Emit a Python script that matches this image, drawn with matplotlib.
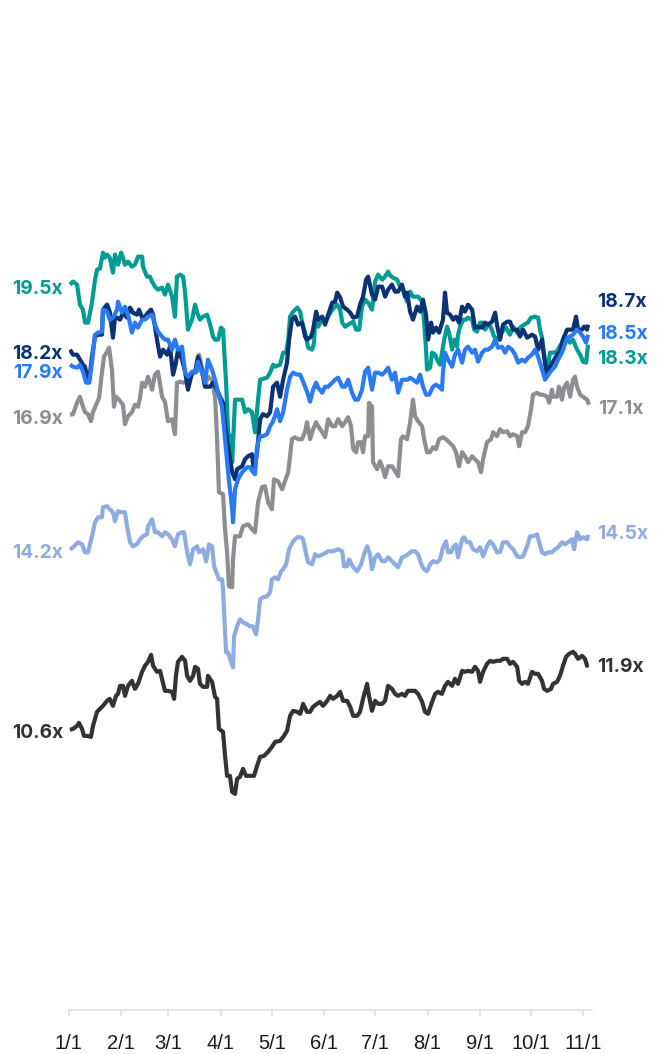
import matplotlib
matplotlib.use("Agg")
import matplotlib.pyplot as plt

# Forward P/E multiples, 2025 year to date (x = days since 1 Jan)
month_days = [0, 31, 59, 90, 120, 151, 181, 212, 243, 273, 304]
month_labels = ["1/1", "2/1", "3/1", "4/1", "5/1", "6/1", "7/1", "8/1", "9/1", "10/1", "11/1"]

teal_pts = [
    (0.8, 19.50), (2.6, 19.56), (5.0, 19.50), (6.7, 19.10), (8.5, 19.00), (9.7, 18.74), (11.5, 18.74),
    (13.8, 19.14), (15.6, 19.60), (16.8, 19.80), (18.5, 19.82), (20.3, 20.14), (21.5, 20.04), (22.7, 20.10),
    (24.3, 20.04), (26.2, 19.74), (27.4, 20.10), (29.2, 19.90), (31.0, 20.14), (32.1, 20.04), (33.3, 19.90),
    (35.1, 19.96), (37.4, 19.86), (39.2, 19.90), (41.0, 20.06), (43.4, 20.06), (43.9, 19.86), (46.3, 19.66),
    (48.0, 19.66), (49.3, 19.56), (51.0, 19.46), (52.8, 19.40), (55.2, 19.44), (56.9, 19.30), (58.7, 19.50),
    (61.1, 19.26), (62.8, 18.86), (64.0, 19.66), (65.8, 19.70), (67.6, 19.66), (68.8, 19.34), (70.5, 18.60),
    (72.9, 18.80), (74.7, 19.10), (75.9, 18.94), (77.6, 18.80), (79.4, 18.86), (81.8, 18.90), (83.6, 18.70),
    (85.3, 18.46), (86.5, 18.40), (88.3, 18.40), (90.0, 18.64), (91.2, 18.60), (93.0, 17.54), (94.2, 16.55),
    (96.0, 16.41), (96.6, 15.95), (98.3, 17.20), (102.5, 17.20), (104.2, 16.95), (106.0, 17.01), (108.3, 16.95),
    (110.1, 16.55), (111.9, 17.20), (113.1, 17.60), (117.2, 17.64), (119.0, 17.74), (120.8, 17.90), (122.0, 17.86),
    (124.9, 17.90), (126.7, 18.14), (128.5, 18.14), (129.7, 18.40), (130.8, 18.86), (132.6, 18.96), (135.0, 19.04),
    (136.8, 18.96), (137.9, 18.74), (139.7, 18.54), (141.5, 18.24), (143.8, 18.20), (145.0, 18.34), (145.6, 18.80),
    (147.4, 18.66), (149.8, 18.80), (151.5, 18.74), (153.3, 18.86), (155.7, 19.00), (157.4, 19.06), (158.6, 19.10),
    (160.4, 19.00), (161.6, 18.74), (163.3, 18.66), (165.1, 18.70), (168.1, 18.76), (169.8, 18.60), (171.6, 18.60),
    (173.3, 19.06), (175.1, 19.20), (176.9, 19.14), (179.2, 19.00), (181.0, 19.56), (182.8, 19.70), (185.2, 19.60),
    (186.9, 19.66), (188.7, 19.76), (189.9, 19.68), (191.6, 19.64), (194.0, 19.60), (195.8, 19.46), (197.5, 19.40),
    (199.9, 19.16), (201.7, 19.36), (203.4, 19.26), (206.4, 19.26), (208.8, 19.16), (210.0, 18.74), (211.1, 18.20),
    (211.7, 17.80), (213.5, 17.84), (214.7, 18.14), (216.5, 18.10), (217.6, 18.00), (219.4, 17.90), (221.8, 18.40),
    (223.5, 18.66), (224.7, 18.54), (226.5, 18.20), (227.7, 18.40), (229.4, 18.26), (230.0, 18.50), (231.2, 18.66),
    (233.0, 18.80), (234.7, 18.80), (235.9, 18.84), (238.3, 18.80), (239.5, 18.60), (241.2, 18.56), (243.0, 18.74),
    (244.8, 18.74), (246.0, 18.60), (247.7, 18.70), (249.5, 18.64), (251.3, 18.46), (253.6, 18.40), (256.0, 18.56),
    (258.4, 18.64), (260.7, 18.50), (262.5, 18.66), (264.9, 18.54), (266.6, 18.64), (269.0, 18.70), (271.3, 18.74),
    (273.1, 18.84), (275.5, 18.86), (277.3, 18.84), (278.4, 18.60), (279.6, 18.44), (280.2, 18.26), (282.0, 17.84),
    (283.2, 17.90), (284.3, 18.14), (286.1, 18.14), (288.5, 18.16), (289.6, 18.24), (291.4, 18.34), (292.6, 18.46),
    (294.4, 18.40), (296.2, 18.34), (297.9, 18.40), (300.3, 18.20), (302.1, 18.10), (303.8, 17.96), (305.6, 17.94),
    (306.8, 18.30),
]

navy_pts = [
    (0.8, 18.20), (2.6, 18.10), (5.0, 18.10), (6.7, 18.00), (8.5, 17.90), (9.7, 17.86), (10.9, 17.66), (12.2, 17.60),
    (13.8, 18.06), (15.6, 18.46), (17.4, 18.50), (19.7, 18.50), (20.3, 19.00), (22.7, 19.10), (24.3, 18.96),
    (26.2, 18.44), (27.4, 18.84), (28.6, 18.84), (30.4, 18.80), (32.1, 18.94), (34.5, 18.84), (36.3, 19.04),
    (38.0, 18.94), (40.4, 18.90), (41.6, 19.00), (43.4, 18.84), (45.1, 18.86), (46.9, 18.94), (48.7, 19.00),
    (49.9, 18.90), (52.2, 18.40), (54.0, 18.06), (55.8, 18.20), (58.1, 18.10), (59.9, 18.26), (61.7, 17.70),
    (63.4, 17.94), (64.6, 18.20), (67.0, 18.00), (68.8, 17.76), (70.5, 17.40), (72.9, 17.74), (74.7, 17.76),
    (76.4, 18.06), (78.8, 17.76), (80.6, 17.46), (83.6, 17.46), (85.3, 17.54), (87.7, 17.40), (89.4, 17.26),
    (91.2, 17.14), (92.4, 16.67), (94.2, 16.27), (96.6, 15.75), (98.3, 15.61), (99.5, 15.81), (102.5, 15.87),
    (104.2, 16.01), (106.0, 16.07), (108.3, 16.11), (109.5, 15.75), (111.3, 16.15), (113.1, 16.81), (114.8, 16.91),
    (117.2, 16.87), (119.0, 16.95), (120.8, 17.46), (123.1, 17.54), (124.9, 17.26), (126.7, 17.60), (129.0, 17.94),
    (130.2, 18.40), (131.9, 18.80), (133.7, 18.86), (135.5, 18.70), (137.9, 18.74), (139.7, 18.46), (140.8, 18.40),
    (143.2, 18.46), (144.4, 18.60), (146.2, 18.96), (147.4, 18.80), (149.8, 18.86), (151.5, 18.70), (153.3, 18.90),
    (155.7, 19.14), (157.4, 19.16), (158.6, 19.34), (160.4, 19.24), (162.1, 19.06), (164.5, 19.00), (166.3, 18.94),
    (168.1, 18.84), (170.4, 18.86), (172.1, 19.10), (173.9, 19.26), (175.7, 19.60), (176.9, 19.66), (179.2, 19.30),
    (181.0, 19.20), (182.8, 19.46), (185.2, 19.46), (186.9, 19.26), (188.7, 19.40), (191.0, 19.50), (192.8, 19.36),
    (194.6, 19.36), (196.9, 19.50), (198.7, 19.26), (199.9, 19.34), (201.7, 18.96), (203.4, 18.80), (205.8, 19.06),
    (207.6, 18.96), (209.3, 19.20), (211.1, 18.90), (212.3, 18.40), (214.1, 18.74), (215.2, 18.54), (217.0, 18.64),
    (218.8, 18.54), (221.1, 18.80), (222.3, 19.34), (223.5, 18.94), (225.3, 18.90), (227.1, 18.80), (228.8, 18.86),
    (230.6, 18.74), (232.4, 19.06), (234.1, 18.96), (235.9, 19.10), (238.3, 19.00), (240.0, 18.64), (241.8, 18.66),
    (244.2, 18.64), (246.0, 18.74), (247.7, 18.70), (250.1, 18.76), (251.9, 18.94), (253.0, 18.70), (254.8, 18.40),
    (256.6, 18.70), (259.0, 18.76), (260.7, 18.76), (262.5, 18.60), (264.9, 18.60), (266.6, 18.46), (268.4, 18.60),
    (270.8, 18.44), (273.7, 18.50), (275.5, 18.46), (277.3, 18.20), (279.6, 18.40), (280.8, 18.06), (282.6, 17.66),
    (284.3, 17.86), (286.1, 17.96), (288.5, 18.10), (290.2, 18.16), (292.0, 18.40), (294.4, 18.60), (296.2, 18.60),
    (297.9, 18.60), (299.7, 18.86), (300.9, 18.60), (303.2, 18.60), (304.4, 18.66), (306.2, 18.60), (306.8, 18.70),
]

blue_pts = [
    (0.8, 17.90), (2.6, 17.86), (5.0, 17.84), (6.7, 17.90), (8.5, 17.76), (10.3, 17.54), (12.2, 17.54), (13.8, 17.94),
    (15.6, 18.50), (17.4, 18.54), (19.7, 18.56), (20.3, 19.00), (22.7, 18.96), (24.3, 18.80), (26.2, 18.84),
    (28.6, 19.00), (29.2, 19.16), (31.5, 18.94), (33.3, 19.06), (35.1, 18.90), (37.4, 18.54), (39.2, 18.74),
    (41.0, 18.64), (43.4, 18.80), (45.1, 18.80), (46.9, 18.86), (49.3, 18.90), (51.0, 18.70), (52.8, 18.56),
    (55.2, 18.46), (56.9, 18.40), (58.7, 18.40), (61.1, 18.20), (62.8, 18.40), (64.6, 18.20), (67.0, 18.26),
    (68.8, 17.74), (70.5, 17.66), (72.9, 17.76), (74.7, 17.74), (76.4, 17.96), (78.8, 17.74), (80.6, 17.54),
    (82.3, 18.00), (84.7, 17.80), (86.5, 17.60), (88.3, 17.34), (90.6, 17.06), (92.4, 16.41), (94.2, 15.75),
    (96.6, 15.01), (97.1, 14.75), (98.3, 15.41), (100.1, 15.61), (102.5, 15.75), (105.4, 15.85), (107.1, 15.85),
    (108.9, 15.75), (110.1, 15.71), (111.3, 16.27), (113.1, 16.47), (114.8, 16.47), (117.2, 16.51), (119.0, 16.67),
    (120.8, 16.77), (123.1, 17.01), (124.9, 16.77), (126.7, 16.95), (129.0, 17.40), (130.8, 17.66), (132.6, 17.74),
    (135.0, 17.70), (136.8, 17.70), (138.5, 17.56), (140.8, 17.36), (142.6, 17.16), (144.4, 17.40), (146.2, 17.54),
    (147.4, 17.44), (149.8, 17.34), (151.5, 17.46), (153.3, 17.46), (155.7, 17.54), (157.4, 17.60), (159.2, 17.64),
    (161.6, 17.46), (163.3, 17.46), (165.1, 17.60), (167.4, 17.34), (169.2, 17.20), (171.0, 17.20), (173.3, 17.40),
    (175.1, 17.76), (176.9, 17.84), (179.2, 17.40), (181.0, 17.74), (182.8, 17.74), (185.2, 17.70), (186.9, 17.76),
    (188.7, 17.84), (191.0, 17.60), (192.8, 17.74), (194.6, 17.34), (196.9, 17.60), (198.7, 17.60), (200.4, 17.60),
    (201.7, 17.64), (203.4, 17.60), (205.8, 17.54), (207.6, 17.70), (209.3, 17.46), (211.1, 17.30), (212.9, 17.30),
    (215.2, 17.46), (217.0, 17.50), (218.8, 17.46), (220.5, 17.40), (221.1, 17.74), (222.3, 18.14), (224.1, 18.00),
    (226.5, 17.86), (228.2, 18.10), (230.0, 18.20), (232.4, 17.94), (234.1, 18.20), (235.9, 18.26), (238.3, 18.14),
    (240.0, 18.20), (241.8, 17.96), (244.2, 18.14), (246.0, 18.20), (247.7, 18.20), (250.1, 18.26), (251.9, 18.40),
    (253.6, 18.24), (256.0, 18.26), (257.8, 18.14), (259.6, 18.26), (261.9, 18.20), (263.7, 18.10), (265.5, 17.94),
    (267.8, 18.00), (269.6, 17.96), (271.3, 18.04), (273.7, 18.10), (275.5, 18.20), (277.3, 18.06), (279.6, 17.80),
    (281.4, 17.60), (283.2, 17.70), (285.5, 17.80), (287.3, 17.86), (289.1, 18.00), (291.4, 18.14), (292.6, 18.26),
    (294.4, 18.44), (296.2, 18.46), (297.9, 18.50), (300.3, 18.60), (302.1, 18.54), (303.8, 18.46), (305.6, 18.34),
    (306.8, 18.50),
]

gray_pts = [
    (0.8, 16.90), (2.6, 16.91), (5.0, 17.14), (6.7, 17.26), (8.5, 17.06), (9.7, 16.95), (11.5, 16.91), (13.2, 16.77),
    (14.4, 16.95), (16.8, 17.14), (18.0, 17.24), (19.7, 17.74), (20.9, 18.06), (22.7, 18.16), (23.9, 18.24),
    (25.6, 17.80), (26.8, 17.06), (28.0, 17.26), (29.8, 17.20), (32.1, 17.10), (33.3, 16.71), (35.1, 16.87),
    (37.4, 16.95), (39.2, 17.10), (41.0, 17.06), (42.2, 17.24), (43.4, 17.54), (45.1, 17.46), (46.9, 17.66),
    (49.3, 17.40), (51.0, 17.70), (52.8, 17.76), (55.2, 17.26), (56.9, 17.16), (58.7, 16.77), (61.1, 16.81),
    (62.8, 16.51), (64.0, 17.54), (65.8, 17.56), (67.6, 17.54), (70.0, 17.56), (71.7, 17.64), (73.5, 17.74),
    (75.9, 17.76), (77.0, 18.10), (79.4, 17.76), (80.6, 17.46), (82.3, 17.66), (84.7, 17.60), (86.5, 17.26),
    (87.7, 16.41), (88.8, 15.35), (91.2, 15.31), (92.4, 14.61), (93.6, 14.15), (94.7, 13.47), (96.6, 13.45),
    (97.1, 14.01), (98.3, 14.47), (101.2, 14.47), (103.0, 14.67), (106.0, 14.71), (108.3, 14.61), (110.1, 14.55),
    (111.9, 15.15), (114.2, 15.45), (116.0, 15.47), (117.8, 15.15), (120.1, 15.01), (121.3, 15.61), (123.7, 15.57),
    (126.1, 15.41), (127.8, 15.57), (129.7, 15.75), (131.9, 16.41), (133.7, 16.45), (135.5, 16.41), (137.9, 16.41),
    (139.7, 16.57), (140.8, 16.75), (142.6, 16.41), (144.4, 16.61), (146.2, 16.75), (147.4, 16.67), (149.8, 16.55),
    (151.5, 16.45), (153.3, 16.81), (155.7, 16.67), (157.4, 16.67), (159.2, 16.81), (161.6, 16.67), (163.3, 16.75),
    (165.1, 16.85), (166.8, 16.67), (168.1, 16.21), (169.8, 16.15), (171.0, 16.35), (172.7, 16.35), (173.9, 16.15),
    (175.1, 16.47), (176.9, 16.47), (177.4, 17.14), (179.2, 17.06), (179.8, 15.95), (182.2, 15.81), (183.9, 15.97),
    (185.7, 15.81), (186.9, 15.65), (188.7, 15.87), (191.0, 15.87), (192.8, 15.77), (194.6, 15.67), (196.3, 16.41),
    (197.5, 16.47), (199.9, 16.41), (201.7, 16.75), (203.4, 17.20), (204.6, 16.87), (206.4, 16.77), (208.8, 16.67),
    (210.0, 16.41), (211.7, 16.15), (213.5, 16.15), (215.2, 16.25), (217.0, 16.21), (218.8, 16.41), (221.1, 16.45),
    (222.9, 16.41), (224.7, 16.35), (227.1, 16.27), (228.8, 16.15), (230.6, 15.87), (232.4, 16.15), (234.1, 16.07),
    (235.9, 15.95), (238.3, 16.07), (240.0, 16.01), (241.8, 15.95), (243.6, 15.75), (244.8, 16.01), (247.1, 16.35),
    (249.5, 16.41), (250.7, 16.55), (253.0, 16.47), (254.8, 16.61), (256.6, 16.55), (259.0, 16.57), (260.7, 16.47),
    (262.5, 16.51), (264.9, 16.47), (266.1, 16.27), (267.8, 16.55), (269.6, 16.55), (271.3, 16.67), (273.1, 17.01),
    (274.3, 17.30), (276.7, 17.34), (278.4, 17.30), (280.2, 17.30), (282.6, 17.26), (283.8, 17.14), (285.5, 17.40),
    (286.1, 17.26), (288.5, 17.26), (289.6, 17.46), (291.4, 17.20), (292.6, 17.44), (294.4, 17.54), (296.2, 17.26),
    (297.9, 17.60), (299.1, 17.66), (300.3, 17.46), (302.1, 17.30), (303.8, 17.26), (306.2, 17.20), (307.4, 17.10),
]

light_pts = [
    (0.8, 14.20), (2.6, 14.25), (5.6, 14.35), (7.9, 14.31), (9.7, 14.15), (11.5, 14.15), (13.8, 14.47), (15.6, 14.75),
    (17.4, 14.85), (19.7, 14.85), (20.3, 15.05), (22.7, 15.07), (24.3, 15.01), (26.2, 14.95), (27.4, 14.77),
    (29.2, 14.97), (31.5, 14.95), (33.3, 14.95), (34.5, 14.67), (36.3, 14.35), (38.0, 14.27), (40.4, 14.31),
    (42.2, 14.41), (43.9, 14.47), (46.3, 14.51), (46.9, 14.67), (49.3, 14.81), (51.0, 14.55), (52.8, 14.55),
    (55.2, 14.47), (56.9, 14.55), (58.7, 14.51), (61.1, 14.41), (62.8, 14.27), (64.6, 14.51), (67.0, 14.55),
    (68.2, 14.55), (70.0, 14.15), (71.7, 13.91), (73.5, 14.21), (75.9, 14.27), (77.0, 14.15), (79.4, 14.21),
    (81.2, 13.97), (82.9, 14.31), (84.7, 14.27), (85.9, 13.87), (87.7, 13.71), (88.8, 13.61), (90.6, 13.61),
    (91.2, 13.41), (93.0, 12.15), (94.2, 12.15), (96.0, 11.95), (97.1, 11.85), (97.7, 12.47), (99.5, 12.67),
    (101.2, 12.81), (103.0, 12.75), (105.4, 12.71), (107.1, 12.67), (108.9, 12.67), (110.7, 12.51), (111.9, 12.81),
    (113.1, 13.21), (114.8, 13.25), (117.2, 13.27), (119.0, 13.35), (120.1, 13.61), (122.0, 13.65), (123.7, 13.61),
    (125.5, 13.77), (126.7, 13.81), (128.5, 13.91), (130.2, 14.21), (132.6, 14.37), (135.0, 14.45), (137.3, 14.45),
    (138.5, 14.41), (140.3, 14.11), (141.5, 13.95), (143.8, 13.91), (145.6, 14.11), (147.4, 14.07), (150.3, 14.11),
    (153.3, 14.17), (156.2, 14.17), (159.2, 14.21), (161.6, 14.17), (162.7, 13.87), (164.5, 13.87), (165.7, 14.01),
    (168.1, 13.85), (170.4, 13.77), (172.7, 13.91), (174.5, 14.11), (176.3, 14.27), (178.0, 14.11), (179.2, 13.81),
    (181.0, 14.05), (182.8, 14.11), (185.2, 13.97), (186.9, 13.97), (188.7, 14.05), (191.0, 13.97), (192.8, 13.91),
    (194.6, 13.85), (196.9, 14.05), (198.7, 14.07), (200.4, 14.11), (202.8, 14.17), (204.6, 14.17), (206.4, 14.11),
    (208.8, 13.87), (210.0, 13.81), (211.7, 13.77), (213.5, 13.91), (215.2, 13.97), (217.6, 13.95), (219.4, 14.01),
    (221.1, 14.25), (222.9, 14.37), (224.1, 14.15), (225.9, 14.15), (227.1, 14.25), (228.8, 14.31), (230.0, 14.05),
    (232.4, 14.41), (233.6, 14.45), (235.3, 14.35), (237.1, 14.35), (238.9, 14.21), (241.2, 14.17), (243.0, 14.25),
    (244.8, 14.07), (247.1, 14.27), (248.9, 14.37), (250.7, 14.31), (253.0, 14.15), (254.8, 14.15), (256.6, 14.35),
    (259.0, 14.35), (260.7, 14.27), (262.5, 14.21), (264.9, 14.07), (266.6, 14.05), (268.4, 14.07), (270.8, 14.27),
    (272.5, 14.47), (274.3, 14.47), (276.7, 14.51), (277.9, 14.35), (279.6, 14.15), (281.4, 14.11), (283.2, 14.15),
    (285.5, 14.15), (287.3, 14.21), (289.1, 14.25), (291.4, 14.35), (293.2, 14.31), (295.0, 14.35), (297.3, 14.41),
    (298.5, 14.21), (300.3, 14.55), (302.1, 14.41), (303.8, 14.45), (306.2, 14.41), (306.8, 14.50),
]

dark_pts = [
    (0.8, 10.60), (2.6, 10.62), (5.0, 10.68), (6.1, 10.74), (7.9, 10.62), (9.1, 10.48), (10.9, 10.48), (13.2, 10.46),
    (14.4, 10.68), (16.8, 10.96), (18.5, 11.02), (20.3, 11.08), (22.7, 11.18), (24.3, 11.22), (26.2, 11.08),
    (28.0, 11.28), (29.2, 11.32), (30.4, 11.48), (32.1, 11.48), (33.3, 11.28), (35.1, 11.48), (37.4, 11.58),
    (39.2, 11.42), (41.0, 11.52), (43.4, 11.76), (45.1, 11.88), (46.9, 11.96), (48.7, 12.10), (49.9, 11.88),
    (52.2, 11.76), (54.0, 11.78), (56.9, 11.38), (58.7, 11.38), (61.1, 11.36), (62.3, 11.22), (63.4, 11.68),
    (64.6, 11.96), (67.0, 12.06), (68.8, 11.98), (70.0, 11.68), (71.7, 11.58), (73.5, 11.68), (74.7, 11.86),
    (76.4, 11.82), (77.6, 11.52), (79.4, 11.46), (81.8, 11.46), (82.3, 11.68), (84.7, 11.56), (86.5, 11.26),
    (87.7, 11.22), (88.8, 10.62), (91.2, 10.56), (92.4, 10.08), (93.6, 9.68), (95.3, 9.68), (96.6, 9.36),
    (98.3, 9.32), (99.5, 9.62), (101.2, 9.66), (103.0, 9.82), (104.8, 9.68), (107.1, 9.68), (109.5, 9.68),
    (111.3, 9.88), (113.1, 10.06), (115.4, 10.08), (117.8, 10.16), (120.1, 10.26), (122.0, 10.36), (124.9, 10.38),
    (127.2, 10.48), (129.0, 10.58), (130.8, 10.88), (132.6, 10.98), (135.0, 10.96), (136.8, 10.92), (138.5, 11.12),
    (140.8, 10.96), (142.6, 10.96), (144.4, 11.06), (146.7, 11.12), (148.5, 11.16), (150.3, 11.08), (152.7, 11.18),
    (154.5, 11.28), (156.2, 11.22), (158.6, 11.28), (160.4, 11.36), (162.1, 11.18), (164.5, 11.18), (166.3, 11.06),
    (168.1, 10.88), (170.4, 10.88), (172.1, 10.96), (173.9, 11.22), (176.3, 11.52), (177.4, 11.28), (179.2, 10.98),
    (181.0, 11.18), (182.8, 11.12), (185.2, 11.12), (186.9, 11.18), (188.7, 11.48), (191.0, 11.42), (192.8, 11.32),
    (194.6, 11.28), (196.9, 11.32), (198.7, 11.28), (200.4, 11.38), (202.8, 11.38), (204.6, 11.38), (206.4, 11.32),
    (208.8, 11.16), (210.5, 10.96), (212.3, 10.92), (214.7, 11.16), (216.5, 11.32), (218.2, 11.36), (220.5, 11.32),
    (222.3, 11.48), (224.1, 11.56), (226.5, 11.48), (228.2, 11.62), (230.0, 11.52), (232.4, 11.78), (234.1, 11.76),
    (235.9, 11.78), (238.3, 11.76), (240.0, 11.86), (241.8, 11.78), (243.0, 11.56), (244.8, 11.76), (247.1, 11.92),
    (248.9, 11.98), (250.7, 11.96), (253.0, 11.98), (254.8, 11.98), (256.6, 12.02), (259.0, 12.02), (260.7, 11.92),
    (262.5, 11.96), (264.9, 11.86), (266.1, 11.58), (267.8, 11.52), (269.6, 11.56), (271.3, 11.52), (273.7, 11.76),
    (275.5, 11.72), (277.3, 11.72), (279.6, 11.58), (280.8, 11.42), (282.6, 11.38), (284.9, 11.42), (286.1, 11.52),
    (288.5, 11.56), (290.2, 11.68), (292.0, 11.88), (293.8, 12.06), (295.6, 12.12), (297.9, 12.16), (299.1, 12.12),
    (300.9, 12.02), (303.2, 12.08), (305.0, 12.02), (306.2, 11.88), (306.8, 11.90),
]

# series: points, colour, drawing order, label y-nudge (pixels) at start and end
series = [
    (gray_pts,  "#8E8E92", 2, -2, -2),
    (teal_pts,  "#009C94", 3, -2, -12),
    (navy_pts,  "#0B3272", 4, -2, 25),
    (blue_pts,  "#2A7AF4", 5, -6, 3),
    (light_pts, "#8FACE0", 2, -1, 3),
    (dark_pts,  "#333333", 2, -1, 0),
]

W, H, DPI = 669, 1054, 100
fig = plt.figure(figsize=(W / DPI, H / DPI), dpi=DPI)
ax = fig.add_axes([68.6 / W, 1 - 1010 / H, (591.8 - 68.6) / W, (1010 - 9.5) / H])
ax.set_xlim(0, 309)
ax.set_ylim(5, 25)

label_font = dict(family=["Inter", "DejaVu Sans"], fontweight="bold", fontsize=13.8)

for pts, color, z, dy_start, dy_end in series:
    days = [p[0] for p in pts]
    vals = [p[1] for p in pts]
    ax.plot(days, vals, color=color, lw=3.0, zorder=z,
            solid_joinstyle="round", solid_capstyle="butt")
    ax.annotate(f"{vals[0]:.1f}x", xy=(days[0], vals[0]), xytext=(-7, dy_start),
                textcoords="offset pixels", ha="right", va="center_baseline",
                color=color, annotation_clip=False, **label_font)
    ax.annotate(f"{vals[-1]:.1f}x", xy=(days[-1], vals[-1]), xytext=(9, dy_end),
                textcoords="offset pixels", ha="left", va="center_baseline",
                color=color, annotation_clip=False, **label_font)

for side in ("top", "left", "right"):
    ax.spines[side].set_visible(False)
ax.spines["bottom"].set_color("#DDDDDD")
ax.spines["bottom"].set_linewidth(1.1)
ax.set_yticks([])
ax.set_xticks(month_days)
ax.set_xticklabels(month_labels, fontfamily="Liberation Sans")
ax.tick_params(axis="x", direction="out", length=4.5, width=1.1, color="#DDDDDD",
               labelcolor="#1A1A1A", labelsize=14.5, pad=13)
ax.patch.set_alpha(0)

fig.savefig("out.png", dpi=DPI, facecolor="white")
